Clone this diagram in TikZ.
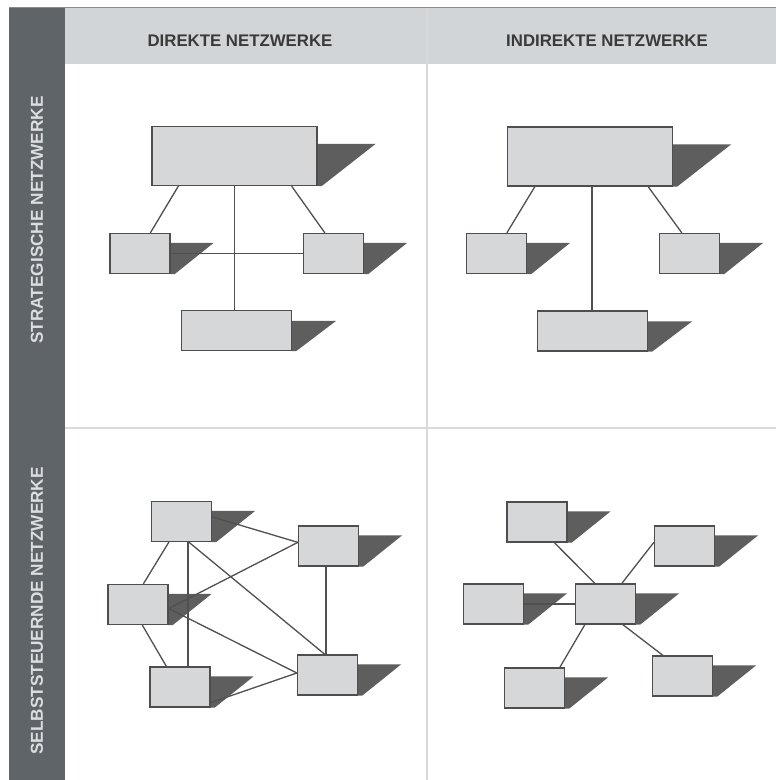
\documentclass[tikz,border=0pt]{standalone}
\usepackage{fontspec}
\setmainfont{Liberation Sans}
\usetikzlibrary{calc}
\pgfdeclarelayer{back}
\pgfdeclarelayer{bg}
\pgfsetlayers{back,bg,main}

\definecolor{sidebar}{HTML}{5F6468}
\definecolor{headbg}{HTML}{D2D5D7}
\definecolor{gridc}{HTML}{D9D9D9}
\definecolor{topc}{HTML}{8A8A8A}
\definecolor{headtxt}{HTML}{3A3A3A}
\definecolor{sidetxt}{HTML}{DCDDDE}
\definecolor{boxfill}{HTML}{D5D7D9}
\definecolor{boxline}{HTML}{4E4E4E}
\definecolor{shadowc}{HTML}{5E5E5E}
\definecolor{linkc}{HTML}{505050}

% drop shadow to the right of a box: node, top offset, reach
\newcommand\dropshadow[3]{%
  \fill[shadowc] ([yshift=-#2pt]#1.north east) -- ++(#3,0)
    -- ([xshift=4pt]#1.south east) -- (#1.south east) -- cycle;}

\tikzset{
  headtext/.style={font=\fontsize{16.8}{20}\selectfont\bfseries, text=headtxt, inner sep=0pt},
  sidetext/.style={font=\fontsize{17.2}{20}\selectfont\bfseries, text=sidetxt, inner sep=0pt, rotate=90},
  gridline/.style={draw=gridc, line width=1.4pt},
  netbox/.style={draw=boxline, fill=boxfill, line width=1.3pt, inner sep=0pt},
  smallbox/.style={netbox, minimum width=60pt, minimum height=40pt},
  bigbox/.style={netbox, minimum width=165pt, minimum height=59pt},
  widebox/.style={netbox, minimum width=110pt, minimum height=40pt},
  link/.style={draw=linkc, line width=1.3pt},
}

\begin{document}
\begin{tikzpicture}[x=1pt, y=-1pt]
\useasboundingbox (0,0) rectangle (776,780);

% frame: side bar, header row, grid lines
\begin{pgfonlayer}{back}
  \fill[white] (0,0) rectangle (776,780);
  \fill[sidebar] (9,8) rectangle (65,780);
  \fill[headbg] (65,8) rectangle (776,64);
  \draw[gridline] (427,8) -- (427,780);
  \draw[gridline] (65,428) -- (776,428);
  \draw[draw=topc, line width=1pt] (9,7.5) -- (776,7.5);
\end{pgfonlayer}

\node[headtext] (hdirekt) at (240,41) {DIREKTE NETZWERKE};
\node[headtext] (hindirekt) at (607,41) {INDIREKTE NETZWERKE};
\node[sidetext] (sstrat) at (37,220) {STRATEGISCHE NETZWERKE};
\node[sidetext] (sselbst) at (37,611) {SELBSTSTEUERNDE NETZWERKE};

% strategic, direct
\node[bigbox]   (dbig)   at (234.5,156) {};
\node[smallbox] (dleft)  at (140,253.5) {};
\node[smallbox] (dright) at (333.5,253.5) {};
\node[widebox]  (dbot)   at (236.5,330.5) {};

% strategic, indirect
\node[bigbox]   (ibig)   at (590,156.5) {};
\node[smallbox] (ileft)  at (496.5,253.5) {};
\node[smallbox] (iright) at (689.5,253.5) {};
\node[widebox]  (ibot)   at (592.5,331) {};

% self-organising, direct
\node[smallbox] (sa) at (181.5,521.5) {};
\node[smallbox] (sb) at (328.5,546) {};
\node[smallbox] (sc) at (138,604.5) {};
\node[smallbox] (sd) at (180,687) {};
\node[smallbox] (se) at (327.5,675) {};

% self-organising, indirect
\node[smallbox] (ta) at (537,522) {};
\node[smallbox] (tb) at (684.5,546) {};
\node[smallbox] (tc) at (493.5,604) {};
\node[smallbox] (tm) at (605.5,604) {};
\node[smallbox] (td) at (534.5,688) {};
\node[smallbox] (te) at (682.5,676) {};

\begin{pgfonlayer}{bg}
  \dropshadow{dbig}{18}{58}
  \dropshadow{ibig}{18}{58}
  \foreach \n in {dleft,dright,ileft,iright,sa,sb,sc,sd,se,ta,tb,tc,tm,td,te}
    {\dropshadow{\n}{10}{43}}
  \dropshadow{dbot}{11}{44}
  \dropshadow{ibot}{11}{44}
\end{pgfonlayer}

% links, strategic direct
\draw[link] ([xshift=27pt]dbig.south west) -- ([xshift=41pt]dleft.north west);
\draw[link] ([xshift=-26pt]dbig.south east) -- ([xshift=22pt]dright.north west);
\draw[link] (dbig.south) -- (dbig.south |- dbot.north);
\draw[link] (dleft.east) -- (dright.west);

% links, strategic indirect
\draw[link] ([xshift=28pt]ibig.south west) -- ([xshift=41pt]ileft.north west);
\draw[link] ([xshift=-25pt]ibig.south east) -- ([xshift=23pt]iright.north west);
\draw[link] ([xshift=2pt]ibig.south) -- ([xshift=2pt]ibig.south |- ibot.north);

% links, self-organising direct
\draw[link] ([xshift=18pt]sa.south west) -- ([xshift=36pt]sc.north west);
\draw[link] ([xshift=37pt]sa.south west) -- ([xshift=37pt]sa.south west |- sd.north);
\draw[link] ([xshift=38pt]sa.south west) -- ([xshift=28pt]se.north west);
\draw[link] ([yshift=-16pt]sa.north east) -- ([yshift=-17pt]sb.north west);
\draw[link] ([yshift=-4pt]sc.east) -- ([yshift=-17pt]sb.north west);
\draw[link] ([yshift=-4pt]sc.east) -- ([yshift=2pt]se.west);
\draw[link] ([xshift=35pt]sc.south west) -- ([xshift=17pt]sd.north west);
\draw[link] ([yshift=5pt]sd.south east) -- ([yshift=2pt]se.west);
\draw[link] ([xshift=28pt]sb.south west) -- ([xshift=28pt]sb.south west |- se.north);

% links, self-organising indirect
\draw[link] ([xshift=48pt]ta.south west) -- ([xshift=20pt]tm.north west);
\draw[link] ([xshift=47pt]tm.north west) -- ([yshift=-17pt]tb.north west);
\draw[link] (tc.east) -- (tm.west);
\draw[link] ([xshift=10pt]tm.south west) -- ([xshift=56pt]td.north west);
\draw[link] ([xshift=48pt]tm.south west) -- ([xshift=11pt]te.north west);
\end{tikzpicture}
\end{document}
